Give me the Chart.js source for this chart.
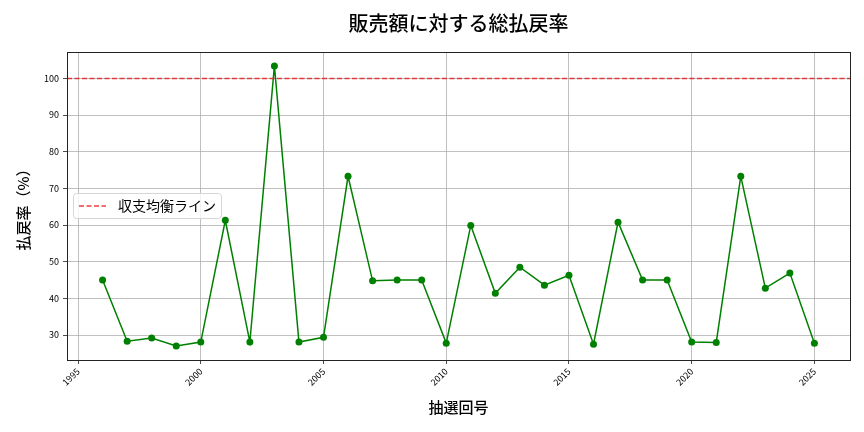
<!DOCTYPE html>
<html>
<head>
<meta charset="utf-8">
<script src="https://cdn.jsdelivr.net/npm/chart.js@4"></script>
<style>
html,body{margin:0;padding:0;background:#fff;}
#wrap{width:864px;height:432px;}
</style>
</head>
<body>
<div id="wrap"><canvas id="chart" width="864" height="432"></canvas></div>
<script>
// 抽選回号（年）
const years=[1996,1997,1998,1999,2000,2001,2002,2003,2004,2005,2006,2007,2008,2009,2010,
    2011,2012,2013,2014,2015,2016,2017,2018,2019,2020,2021,2022,2023,2024,2025];
// 払戻率（%）
const payoutRates=[45.0,28.3,29.2,27.0,28.1,61.3,28.1,103.4,28.1,29.4,73.3,44.8,45.0,45.0,27.8,
    59.9,41.4,48.5,43.6,46.3,27.5,60.8,45.0,45.0,28.1,28.0,73.3,42.8,46.9,27.8];
const xTicks=[1995,2000,2005,2010,2015,2020,2025];
const yTicks=[30,40,50,60,70,80,90,100];
const breakEven=100;
const xMin=1994.55, xMax=2026.45;
const chartTitle='販売額に対する総払戻率';

const FONT='"Noto Sans CJK JP","Noto Sans",sans-serif';

// 枠・タイトル・凡例（プロット領域内）
const frameAndLegend={
    id:'frameAndLegend',
    afterDraw(chart){
        const ctx=chart.ctx;
        const a=chart.chartArea;
        ctx.save();
        ctx.strokeStyle='#222';
        ctx.lineWidth=1;
        ctx.strokeRect(a.left+0.5,a.top+0.5,a.right-a.left,a.bottom-a.top);

        ctx.fillStyle='#000';
        ctx.font='500 20px '+FONT;
        ctx.textAlign='center';
        ctx.textBaseline='middle';
        ctx.fillText(chartTitle,(a.left+a.right)/2,23);

        const bx=a.left+6, by=193, bw=148, bh=25;
        ctx.fillStyle='rgba(255,255,255,0.8)';
        ctx.strokeStyle='#d6d6d6';
        ctx.beginPath();
        if(ctx.roundRect) ctx.roundRect(bx+0.5,by+0.5,bw,bh,3); else ctx.rect(bx+0.5,by+0.5,bw,bh);
        ctx.fill();
        ctx.stroke();
        ctx.strokeStyle='rgba(230,30,30,0.85)';
        ctx.lineWidth=1.5;
        ctx.setLineDash([5,2.5]);
        ctx.beginPath();
        ctx.moveTo(bx+6,by+13);
        ctx.lineTo(bx+33,by+13);
        ctx.stroke();
        ctx.setLineDash([]);
        ctx.fillStyle='#000';
        ctx.font='14px '+FONT;
        ctx.textAlign='left';
        ctx.fillText('収支均衡ライン',bx+45,by+13);
        ctx.restore();
    }
};

new Chart(document.getElementById('chart'),{
    type:'line',
    data:{
        datasets:[
            {
                label:'収支均衡ライン',
                data:[{x:xMin,y:breakEven},{x:xMax,y:breakEven}],
                borderColor:'rgba(230,30,30,0.85)',
                borderWidth:1.5,
                borderDash:[5,2.5],
                pointRadius:0,
                fill:false,
                order:0
            },
            {
                label:'払戻率',
                data:years.map((y,i)=>({x:y,y:payoutRates[i]})),
                borderColor:'#008000',
                backgroundColor:'#008000',
                borderWidth:1.5,
                pointRadius:3.5,
                pointBorderWidth:0,
                tension:0,
                fill:false,
                order:1
            }
        ]
    },
    options:{
        responsive:false,
        animation:false,
        layout:{padding:{left:14,right:14,top:52,bottom:16}},
        plugins:{
            legend:{display:false},
            tooltip:{enabled:false},
            title:{display:false}
        },
        scales:{
            x:{
                type:'linear',
                min:xMin,
                max:xMax,
                afterBuildTicks(s){s.ticks=xTicks.map(v=>({value:v}));},
                afterFit(s){s.height=56;},
                ticks:{
                    color:'#000',
                    font:{family:FONT,size:9},
                    minRotation:45,
                    maxRotation:45,
                    padding:2,
                    callback:v=>String(v)
                },
                grid:{color:'#b0b0b0',lineWidth:0.8,tickLength:4,tickColor:'#222'},
                border:{color:'#222'},
                title:{display:true,text:'抽選回号',color:'#000',font:{family:FONT,size:15,weight:'500'},padding:{top:4,bottom:0}}
            },
            y:{
                type:'linear',
                min:23.2,
                max:107.2,
                afterBuildTicks(s){s.ticks=yTicks.map(v=>({value:v}));},
                afterFit(s){s.width=53;},
                ticks:{
                    color:'#000',
                    font:{family:FONT,size:9},
                    padding:4,
                    callback:v=>String(v)
                },
                grid:{color:'#b0b0b0',lineWidth:0.8,tickLength:4,tickColor:'#222'},
                border:{color:'#222'},
                title:{display:true,text:'払戻率（%）',color:'#000',font:{family:FONT,size:15,weight:'500'},padding:{top:0,bottom:6}}
            }
        }
    },
    plugins:[frameAndLegend]
});
</script>
</body>
</html>
